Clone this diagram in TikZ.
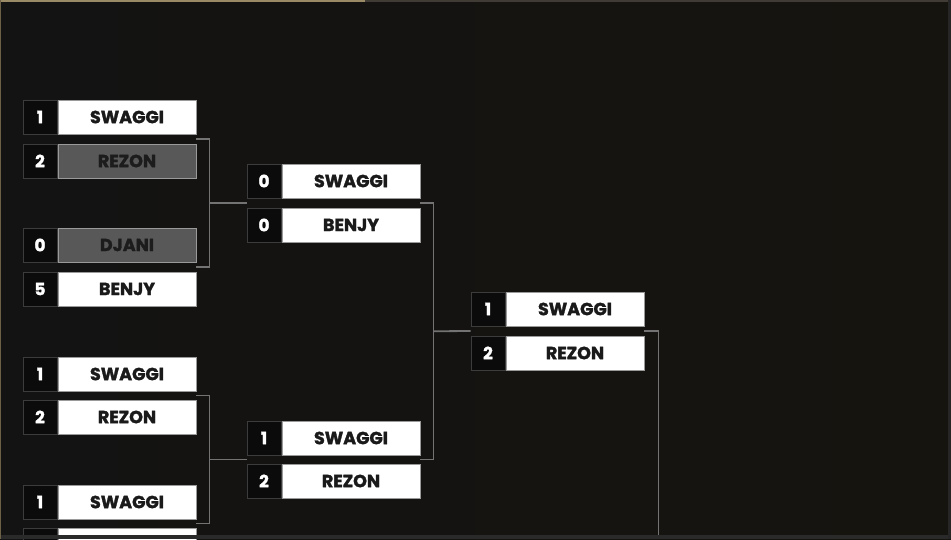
\documentclass[tikz,border=0pt]{standalone}
\usepackage{fontspec}
\setmainfont{Poppins}[BoldFeatures={FakeBold=1.6}]
\usetikzlibrary{calc}
\definecolor{bgA}{HTML}{131313}
\definecolor{bgB}{HTML}{16140F}
\definecolor{scorefill}{HTML}{0B0B0B}
\definecolor{slotedge}{HTML}{3C3C3C}
\definecolor{nameedge}{HTML}{9A9A9A}
\definecolor{nametext}{HTML}{1A1A1A}
\definecolor{loserfill}{HTML}{585858}
\definecolor{losertext}{HTML}{1C1C1C}
\definecolor{wirecol}{HTML}{737373}
\definecolor{goldedge}{HTML}{9B8A66}
\definecolor{greyedge}{HTML}{403C35}
\definecolor{footstrip}{HTML}{2A2A2A}
\tikzset{
  scorebox/.style={draw=slotedge, line width=0.8pt, fill=scorefill, minimum width=34pt, minimum height=34pt, inner sep=0pt, text=white, font=\bfseries\fontsize{17}{17}\selectfont},
  namebox/.style={draw=nameedge, line width=0.8pt, fill=white, minimum width=138pt, minimum height=34pt, inner sep=0pt, text=nametext, font=\bfseries\fontsize{17.5}{17.5}\selectfont},
  loser/.style={fill=loserfill, text=losertext},
  wire/.style={draw=wirecol, line width=1.8pt},
}
\newcommand\matchslot[6]{%
  \node[scorebox] (s#1) at (#2+17, #3+17) {#4};
  \node[namebox,#6] (n#1) at (#2+104, #3+17) {#5};
}
\begin{document}
\begin{tikzpicture}[x=1pt,y=-1pt]
\useasboundingbox (0,0) rectangle (951,539);
\shade[left color=bgA, right color=bgB] (0,0) rectangle (951,539);
% round 1
\matchslot{a1}{23}{100}{1}{SWAGGI}{}
\matchslot{a2}{23}{144}{2}{REZON}{loser}
\matchslot{a3}{23}{228}{0}{DJANI}{loser}
\matchslot{a4}{23}{272}{5}{BENJY}{}
\matchslot{a5}{23}{357}{1}{SWAGGI}{}
\matchslot{a6}{23}{400}{2}{REZON}{}
\matchslot{a7}{23}{485}{1}{SWAGGI}{}
\matchslot{a8}{23}{528}{}{}{}
% round 2
\matchslot{b1}{247}{164}{0}{SWAGGI}{}
\matchslot{b2}{247}{208}{0}{BENJY}{}
\matchslot{b3}{247}{421}{1}{SWAGGI}{}
\matchslot{b4}{247}{464}{2}{REZON}{}
% round 3
\matchslot{c1}{471}{292}{1}{SWAGGI}{}
\matchslot{c2}{471}{336}{2}{REZON}{}
% connectors
\coordinate (t1) at ($(na1.south east)!.5!(na2.north east)$);
\coordinate (u1) at ($(na3.south east)!.5!(na4.north east)$);
\coordinate (m1) at ($(sb1.south west)!.5!(sb2.north west)$);
\draw[wire] (t1) -- ++(13,0) |- (u1);
\draw[wire] ($(t1)!.5!(u1)+(13,0)$) -- (m1);
\coordinate (t2) at ($(na5.south east)!.5!(na6.north east)$);
\coordinate (u2) at ($(na7.south east)!.5!(na8.north east)$);
\coordinate (m2) at ($(sb3.south west)!.5!(sb4.north west)$);
\draw[wire] (t2) -- ++(13,0) |- (u2);
\draw[wire] ($(t2)!.5!(u2)+(13,0)$) -- (m2);
\coordinate (t3) at ($(nb1.south east)!.5!(nb2.north east)$);
\coordinate (u3) at ($(nb3.south east)!.5!(nb4.north east)$);
\coordinate (m3) at ($(sc1.south west)!.5!(sc2.north west)$);
\draw[wire] (t3) -- ++(13,0) |- (u3);
\draw[wire] ($(t3)!.5!(u3)+(13,0)$) -- (m3);
\coordinate (t4) at ($(nc1.south east)!.5!(nc2.north east)$);
\coordinate (e4) at ($(t4)+(14,0)$);
\coordinate (f4) at (e4 |- 0,539);
\draw[wire] (t4) -- (e4) -- (f4);
% frame
\fill[footstrip] (0,535) rectangle (951,539);
\fill[greyedge] (365,0) rectangle (951,1.6);
\fill[goldedge] (0,0) rectangle (365,1.6);
\fill[goldedge!70!black] (0,0) rectangle (1.4,539);
\fill[black!85] (948,0) rectangle (951,539);
\end{tikzpicture}
\end{document}
